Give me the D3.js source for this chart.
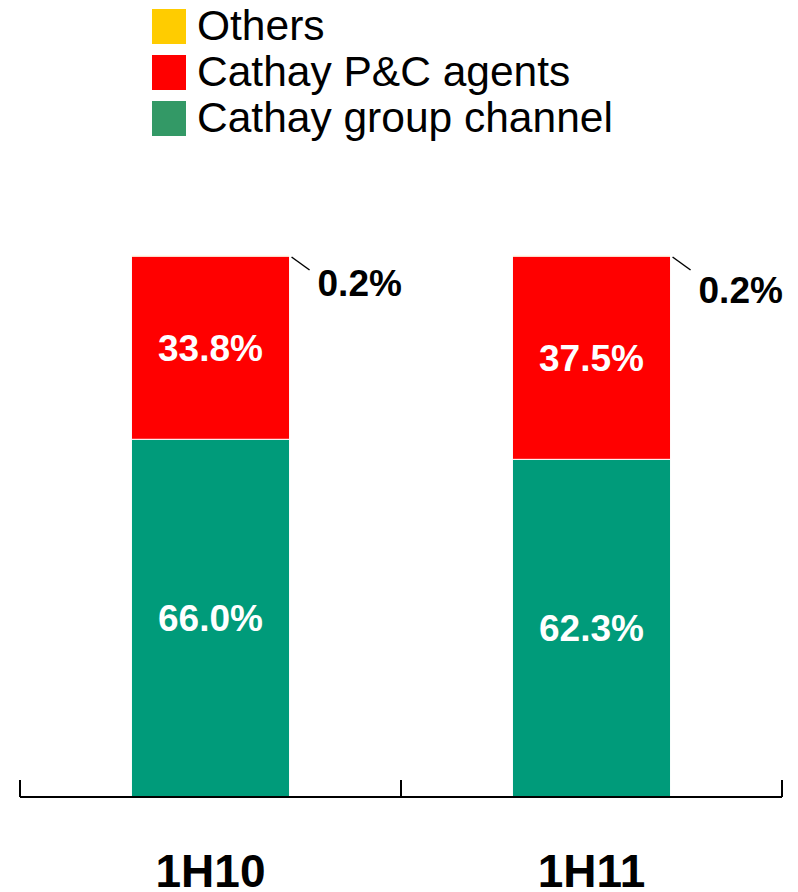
<!DOCTYPE html>
<html>
<head>
<meta charset="utf-8">
<script src="https://cdn.jsdelivr.net/npm/d3@7"></script>
<style>
  html, body { margin: 0; padding: 0; background: #fff; }
  svg { display: block; font-family: "Liberation Sans", Arial, sans-serif; }
</style>
</head>
<body>
<svg id="chart" width="798" height="892"></svg>
<script>
const categories = ["1H10", "1H11"];
const seriesNames = ["Cathay group channel", "Cathay P&C agents", "Others"];
const groupChannel = [66.0, 62.3];
const pcAgents = [33.8, 37.5];
const others = [0.2, 0.2];
const legendOrder = ["Others", "Cathay P&C agents", "Cathay group channel"];

const barColors = {"Cathay group channel": "#009B7A", "Cathay P&C agents": "#FF0000", "Others": "#FFCC00"};
const legendColors = {"Cathay group channel": "#339966", "Cathay P&C agents": "#FF0000", "Others": "#FFCC00"};

const svg = d3.select("#chart");
const axisY = 797, topY = 255;

const x = d3.scaleBand().domain(categories).range([20, 782]).padding(0);
const y = d3.scaleLinear().domain([0, 100]).range([axisY, topY]);
const barW = x.bandwidth() * 0.415;

const rows = categories.map((c, i) => ({
  cat: c,
  "Cathay group channel": groupChannel[i],
  "Cathay P&C agents": pcAgents[i],
  "Others": others[i]
}));
const stack = d3.stack().keys(seriesNames)(rows);

// bars
stack.forEach(layer => {
  svg.append("g").selectAll("rect").data(layer).join("rect")
    .attr("x", d => x(d.data.cat) + (x.bandwidth() - barW) / 2)
    .attr("width", barW)
    .attr("y", d => y(d[1]))
    .attr("height", d => y(d[0]) - y(d[1]))
    .attr("fill", barColors[layer.key])
    .attr("stroke", "#fff")
    .attr("stroke-width", 1);
});

// inside labels
stack.slice(0, 2).forEach(layer => {
  svg.append("g").selectAll("text").data(layer).join("text")
    .attr("x", d => x(d.data.cat) + x.bandwidth() / 2)
    .attr("y", d => (y(d[0]) + y(d[1])) / 2)
    .attr("dy", "0.36em")
    .attr("text-anchor", "middle")
    .attr("fill", "#fff")
    .attr("font-weight", "bold")
    .attr("font-size", 37)
    .text(d => (d[1] - d[0]).toFixed(1) + "%");
});

// others annotations
const othersLayer = stack[2];
const annDy = [41, 48];
const ann = svg.append("g");
othersLayer.forEach((d, i) => {
  const bx = x(d.data.cat) + (x.bandwidth() + barW) / 2;
  const by = y(d[1]);
  ann.append("line")
    .attr("x1", bx + 2).attr("y1", by + 2)
    .attr("x2", bx + 20).attr("y2", by + 15)
    .attr("stroke", "#000").attr("stroke-width", 1.5);
  ann.append("text")
    .attr("x", bx + 28).attr("y", by + annDy[i])
    .attr("font-weight", "bold")
    .attr("font-size", 37)
    .attr("fill", "#000")
    .text(others[i].toFixed(1) + "%");
});

// axis
const axis = svg.append("g");
axis.append("line").attr("x1", 20).attr("x2", 782).attr("y1", axisY).attr("y2", axisY)
  .attr("stroke", "#000").attr("stroke-width", 2);
const tickXs = categories.map(c => x(c)).concat([x.range()[1]]);
axis.selectAll("line.tick").data(tickXs).join("line").attr("class", "tick")
  .attr("x1", d => d).attr("x2", d => d)
  .attr("y1", axisY - 17).attr("y2", axisY)
  .attr("stroke", "#000").attr("stroke-width", 2);

// category labels
svg.append("g").selectAll("text").data(categories).join("text")
  .attr("x", d => x(d) + x.bandwidth() / 2)
  .attr("y", 887)
  .attr("text-anchor", "middle")
  .attr("font-weight", "bold")
  .attr("font-size", 46)
  .attr("fill", "#000")
  .text(d => d);

// legend
const legend = svg.append("g").attr("transform", "translate(152,9)");
legendOrder.forEach((name, i) => {
  const g = legend.append("g").attr("transform", `translate(0,${i * 46})`);
  g.append("rect").attr("width", 34).attr("height", 35).attr("fill", legendColors[name]);
  g.append("text").attr("x", 45).attr("y", 31)
    .attr("font-size", 42.5).attr("fill", "#000").text(name);
});
</script>
</body>
</html>
